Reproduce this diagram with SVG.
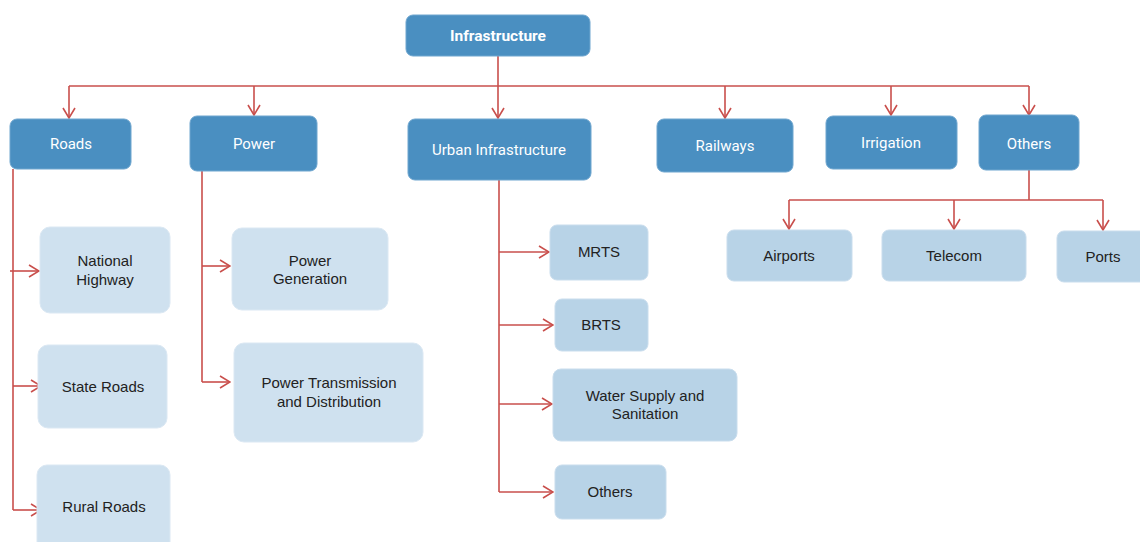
<svg xmlns="http://www.w3.org/2000/svg" width="1140" height="542" viewBox="0 0 1140 542">
<style>
.dark{fill:#4a8fc1;stroke:#6fa6cf;stroke-width:1}
.l1{fill:#cfe1ef;stroke:#dbe8f3;stroke-width:1}
.l2{fill:#b8d3e7;stroke:#c9dded;stroke-width:1}
.tw{font-family:Roboto,"Liberation Sans",sans-serif;font-size:15px;fill:#ffffff;text-anchor:middle}
.tb{font-family:Roboto,"Liberation Sans",sans-serif;font-size:15.5px;font-weight:bold;fill:#ffffff;text-anchor:middle}
.td{font-family:"Liberation Sans",Arial,sans-serif;font-size:15px;fill:#222222;text-anchor:middle}
.c{fill:none;stroke:#c94f4c;stroke-width:1.6}
.a{fill:none;stroke:#c94f4c;stroke-width:1.6;marker-end:url(#ah)}
</style>
<defs>
<marker id="ah" viewBox="0 0 12 14" refX="11" refY="7" markerWidth="12" markerHeight="14" markerUnits="userSpaceOnUse" orient="auto">
<path d="M1,1 L11,7 L1,13" fill="none" stroke="#c94f4c" stroke-width="1.6"/>
</marker>
</defs>
<rect width="1140" height="542" fill="#ffffff"/>
<g id="connectors">
<path class="c" d="M498,56 V86"/>
<path class="c" d="M69,86 H1029"/>
<path class="a" d="M69,86 V118"/>
<path class="a" d="M254,86 V115"/>
<path class="a" d="M498,86 V118"/>
<path class="a" d="M725,86 V118"/>
<path class="a" d="M891,86 V115"/>
<path class="a" d="M1029,86 V115"/>
<path class="c" d="M1029,170 V200"/>
<path class="c" d="M789,200 H1103"/>
<path class="a" d="M789,200 V229"/>
<path class="a" d="M954,200 V229"/>
<path class="a" d="M1103,200 V230"/>
<path class="c" d="M13,169 V510"/>
<path class="a" d="M10,271 H39"/>
<path class="a" d="M13,386 H41"/>
<path class="a" d="M13,510 H41"/>
<path class="c" d="M202,171 V382"/>
<path class="a" d="M202,266 H230"/>
<path class="a" d="M202,382 H230"/>
<path class="c" d="M499,180 V492"/>
<path class="a" d="M499,252 H549"/>
<path class="a" d="M499,325 H553"/>
<path class="a" d="M499,404 H552"/>
<path class="a" d="M499,492 H553"/>
</g>
<g id="infrastructure"><rect class="dark" x="406" y="15" width="184" height="41" rx="7"/><text class="tb" x="498" y="41">Infrastructure</text></g>
<g id="roads"><rect class="dark" x="10" y="119" width="121" height="50" rx="7"/><text class="tw" x="71" y="149">Roads</text></g>
<g id="power"><rect class="dark" x="190" y="116" width="127" height="55" rx="7"/><text class="tw" x="254" y="149">Power</text></g>
<g id="urban"><rect class="dark" x="408" y="119" width="183" height="61" rx="7"/><text class="tw" x="499" y="155">Urban Infrastructure</text></g>
<g id="railways"><rect class="dark" x="657" y="119" width="136" height="53" rx="7"/><text class="tw" x="725" y="151">Railways</text></g>
<g id="irrigation"><rect class="dark" x="826" y="116" width="131" height="53" rx="7"/><text class="tw" x="891" y="148">Irrigation</text></g>
<g id="others"><rect class="dark" x="979" y="115" width="100" height="55" rx="7"/><text class="tw" x="1029" y="149">Others</text></g>
<g id="airports"><rect class="l2" x="727" y="230" width="125" height="51" rx="7"/><text class="td" x="789" y="261">Airports</text></g>
<g id="telecom"><rect class="l2" x="882" y="230" width="144" height="51" rx="7"/><text class="td" x="954" y="261">Telecom</text></g>
<g id="ports"><rect class="l2" x="1057" y="231" width="95" height="51" rx="7"/><text class="td" x="1103" y="262">Ports</text></g>
<g id="national-highway"><rect class="l1" x="40" y="227" width="130" height="86" rx="10"/><text class="td" x="105" y="266">National</text><text class="td" x="105" y="285">Highway</text></g>
<g id="state-roads"><rect class="l1" x="38" y="345" width="129" height="83" rx="10"/><text class="td" x="103" y="392">State Roads</text></g>
<g id="rural-roads"><rect class="l1" x="37" y="465" width="133" height="90" rx="10"/><text class="td" x="104" y="512">Rural Roads</text></g>
<g id="power-generation"><rect class="l1" x="232" y="228" width="156" height="82" rx="10"/><text class="td" x="310" y="266">Power</text><text class="td" x="310" y="284">Generation</text></g>
<g id="power-transmission"><rect class="l1" x="234" y="343" width="189" height="99" rx="10"/><text class="td" x="329" y="388">Power Transmission</text><text class="td" x="329" y="407">and Distribution</text></g>
<g id="mrts"><rect class="l2" x="550" y="225" width="98" height="55" rx="7"/><text class="td" x="599" y="257">MRTS</text></g>
<g id="brts"><rect class="l2" x="555" y="299" width="93" height="52" rx="7"/><text class="td" x="601" y="330">BRTS</text></g>
<g id="water"><rect class="l2" x="553" y="369" width="184" height="72" rx="8"/><text class="td" x="645" y="401">Water Supply and</text><text class="td" x="645" y="419">Sanitation</text></g>
<g id="urban-others"><rect class="l2" x="555" y="465" width="111" height="54" rx="7"/><text class="td" x="610" y="497">Others</text></g>
</svg>
